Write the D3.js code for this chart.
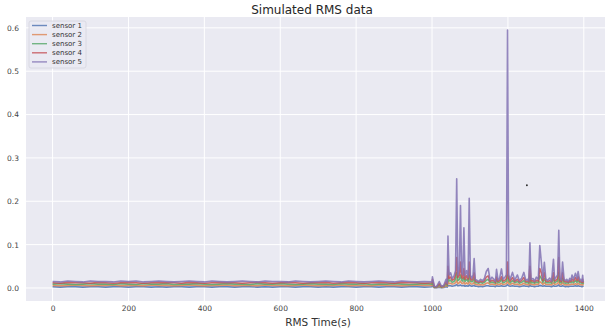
<!DOCTYPE html>
<html>
<head>
<meta charset="utf-8">
<script src="https://cdn.jsdelivr.net/npm/d3@7"></script>
<style>
  html, body { margin: 0; padding: 0; background: #fff; }
  svg { display: block; font-family: "DejaVu Sans", sans-serif; }
</style>
</head>
<body>
<div id="chart"></div>
<script>
const sensorNames = ['sensor 1', 'sensor 2', 'sensor 3', 'sensor 4', 'sensor 5']
const sensorColors = ['#4c72b0', '#dd8452', '#55a868', '#c44e52', '#8172b3']
const xTicks = [0, 200, 400, 600, 800, 1000, 1200, 1400]
const yTicks = [0.0, 0.1, 0.2, 0.3, 0.4, 0.5, 0.6]

// quiet part, one reading every 20 s
const baseTimes = [
  0, 20, 40, 60, 80, 100, 120, 140, 160, 180,
  200, 220, 240, 260, 280, 300, 320, 340, 360, 380,
  400, 420, 440, 460, 480, 500, 520, 540, 560, 580,
  600, 620, 640, 660, 680, 700, 720, 740, 760, 780,
  800, 820, 840, 860, 880, 900, 920, 940, 960, 980
]
const base1 = [
  0.003, 0.002, 0.003, 0.003, 0.002, 0.003, 0.003, 0.002, 0.003, 0.003,
  0.002, 0.003, 0.003, 0.002, 0.003, 0.002, 0.003, 0.003, 0.002, 0.003,
  0.003, 0.002, 0.003, 0.003, 0.002, 0.003, 0.003, 0.002, 0.003, 0.002,
  0.003, 0.003, 0.002, 0.003, 0.003, 0.002, 0.003, 0.002, 0.003, 0.003,
  0.002, 0.003, 0.003, 0.002, 0.003, 0.003, 0.002, 0.003, 0.003, 0.002
]
const base2 = [
  0.006, 0.005, 0.006, 0.007, 0.006, 0.005, 0.006, 0.006, 0.007, 0.005,
  0.006, 0.006, 0.005, 0.007, 0.006, 0.006, 0.005, 0.006, 0.007, 0.006,
  0.005, 0.006, 0.006, 0.007, 0.005, 0.006, 0.006, 0.005, 0.007, 0.006,
  0.006, 0.005, 0.006, 0.007, 0.006, 0.005, 0.006, 0.006, 0.007, 0.005,
  0.006, 0.006, 0.005, 0.007, 0.006, 0.006, 0.005, 0.006, 0.007, 0.006
]
const base3 = [
  0.009, 0.010, 0.009, 0.008, 0.009, 0.010, 0.009, 0.009, 0.008, 0.010,
  0.009, 0.008, 0.010, 0.009, 0.009, 0.010, 0.008, 0.009, 0.009, 0.010,
  0.009, 0.008, 0.009, 0.010, 0.009, 0.009, 0.008, 0.010, 0.009, 0.009,
  0.010, 0.009, 0.008, 0.009, 0.010, 0.009, 0.009, 0.008, 0.010, 0.009,
  0.009, 0.010, 0.008, 0.009, 0.009, 0.010, 0.009, 0.008, 0.009, 0.010
]
const base4 = [
  0.012, 0.011, 0.013, 0.012, 0.012, 0.011, 0.013, 0.012, 0.011, 0.012,
  0.013, 0.012, 0.011, 0.012, 0.013, 0.012, 0.012, 0.011, 0.013, 0.012,
  0.011, 0.012, 0.013, 0.012, 0.012, 0.011, 0.012, 0.013, 0.012, 0.011,
  0.012, 0.013, 0.012, 0.011, 0.012, 0.012, 0.013, 0.011, 0.012, 0.013,
  0.012, 0.011, 0.012, 0.013, 0.012, 0.011, 0.013, 0.012, 0.012, 0.011
]
const base5 = [
  0.015, 0.014, 0.016, 0.015, 0.014, 0.016, 0.015, 0.015, 0.014, 0.016,
  0.015, 0.016, 0.014, 0.015, 0.016, 0.015, 0.014, 0.015, 0.016, 0.015,
  0.014, 0.016, 0.015, 0.014, 0.015, 0.016, 0.015, 0.014, 0.016, 0.015,
  0.015, 0.014, 0.016, 0.015, 0.014, 0.015, 0.016, 0.015, 0.014, 0.016,
  0.015, 0.014, 0.015, 0.016, 0.015, 0.014, 0.016, 0.015, 0.014, 0.015
]

// burst part after 1000 s, uneven spacing around the spikes
const burstTimes = [
  1000, 1001, 1006, 1012, 1019, 1025, 1031, 1037, 1040, 1042,
  1045, 1049, 1053, 1058, 1062, 1065, 1068, 1072, 1075, 1078,
  1081, 1084, 1087, 1091, 1095, 1098, 1101, 1105, 1108, 1111,
  1114, 1118, 1123, 1128, 1133, 1138, 1143, 1148, 1153, 1158,
  1163, 1167, 1170, 1174, 1178, 1183, 1187, 1192, 1196, 1199,
  1202, 1206, 1212, 1218, 1225, 1230, 1236, 1242, 1247, 1252,
  1255, 1258, 1261, 1266, 1270, 1275, 1280, 1284, 1288, 1292,
  1296, 1300, 1305, 1310, 1315, 1320, 1323, 1327, 1331, 1334,
  1337, 1341, 1344, 1348, 1352, 1355, 1359, 1363, 1366, 1369,
  1373, 1378, 1382, 1385, 1389, 1392, 1395, 1397, 1398, 1399
]
const burst1 = [
  0.003, 0.005, 0.0005, 0.0005, 0.002, 0.0005, 0.001, 0.003, 0.002, 0.006,
  0.005, 0.005, 0.004, 0.005, 0.006, 0.008, 0.005, 0.006, 0.007, 0.005,
  0.005, 0.006, 0.004, 0.005, 0.004, 0.007, 0.005, 0.004, 0.005, 0.006,
  0.004, 0.004, 0.003, 0.004, 0.003, 0.004, 0.005, 0.005, 0.004, 0.004,
  0.004, 0.003, 0.005, 0.004, 0.004, 0.005, 0.004, 0.004, 0.005, 0.008,
  0.005, 0.004, 0.005, 0.004, 0.004, 0.003, 0.004, 0.005, 0.004, 0.004,
  0.003, 0.007, 0.004, 0.004, 0.003, 0.004, 0.004, 0.006, 0.005, 0.004,
  0.005, 0.004, 0.004, 0.004, 0.003, 0.005, 0.004, 0.004, 0.005, 0.007,
  0.004, 0.004, 0.005, 0.004, 0.003, 0.004, 0.003, 0.004, 0.004, 0.004,
  0.004, 0.005, 0.004, 0.005, 0.004, 0.004, 0.003, 0.004, 0.004, 0.003
]
const burst2 = [
  0.006, 0.009, 0.001, 0.001, 0.004, 0.001, 0.002, 0.006, 0.004, 0.015,
  0.010, 0.011, 0.009, 0.010, 0.012, 0.018, 0.010, 0.012, 0.016, 0.011,
  0.010, 0.014, 0.009, 0.012, 0.009, 0.016, 0.010, 0.009, 0.010, 0.013,
  0.008, 0.008, 0.007, 0.008, 0.007, 0.008, 0.011, 0.012, 0.008, 0.009,
  0.008, 0.007, 0.011, 0.008, 0.008, 0.011, 0.008, 0.009, 0.010, 0.016,
  0.010, 0.008, 0.011, 0.008, 0.009, 0.007, 0.008, 0.011, 0.008, 0.008,
  0.007, 0.016, 0.008, 0.008, 0.007, 0.009, 0.008, 0.015, 0.012, 0.008,
  0.012, 0.008, 0.008, 0.008, 0.007, 0.012, 0.008, 0.009, 0.010, 0.018,
  0.008, 0.008, 0.012, 0.008, 0.007, 0.008, 0.007, 0.008, 0.008, 0.009,
  0.008, 0.010, 0.008, 0.011, 0.008, 0.008, 0.007, 0.009, 0.008, 0.006
]
const burst3 = [
  0.009, 0.014, 0.002, 0.002, 0.007, 0.002, 0.004, 0.010, 0.006, 0.030,
  0.016, 0.018, 0.013, 0.015, 0.020, 0.035, 0.017, 0.020, 0.030, 0.018,
  0.016, 0.025, 0.015, 0.020, 0.015, 0.030, 0.016, 0.014, 0.016, 0.022,
  0.012, 0.012, 0.011, 0.013, 0.011, 0.013, 0.018, 0.020, 0.012, 0.014,
  0.012, 0.011, 0.018, 0.012, 0.013, 0.019, 0.012, 0.014, 0.016, 0.030,
  0.016, 0.012, 0.017, 0.012, 0.015, 0.011, 0.013, 0.017, 0.012, 0.012,
  0.011, 0.030, 0.012, 0.013, 0.011, 0.014, 0.012, 0.028, 0.022, 0.013,
  0.022, 0.012, 0.012, 0.013, 0.011, 0.022, 0.012, 0.014, 0.016, 0.035,
  0.013, 0.012, 0.022, 0.012, 0.011, 0.012, 0.011, 0.013, 0.012, 0.015,
  0.012, 0.017, 0.013, 0.018, 0.012, 0.012, 0.011, 0.015, 0.012, 0.009
]
const burst4 = [
  0.012, 0.020, 0.003, 0.003, 0.010, 0.003, 0.005, 0.014, 0.008, 0.050,
  0.022, 0.025, 0.018, 0.020, 0.030, 0.070, 0.024, 0.030, 0.060, 0.025,
  0.022, 0.045, 0.020, 0.028, 0.020, 0.060, 0.022, 0.018, 0.022, 0.035,
  0.016, 0.015, 0.013, 0.016, 0.014, 0.017, 0.025, 0.028, 0.015, 0.018,
  0.016, 0.013, 0.025, 0.015, 0.017, 0.026, 0.016, 0.018, 0.022, 0.060,
  0.022, 0.016, 0.024, 0.015, 0.020, 0.014, 0.017, 0.024, 0.015, 0.016,
  0.014, 0.050, 0.016, 0.017, 0.014, 0.018, 0.016, 0.045, 0.035, 0.017,
  0.035, 0.016, 0.015, 0.017, 0.014, 0.035, 0.016, 0.018, 0.022, 0.070,
  0.017, 0.015, 0.035, 0.016, 0.014, 0.016, 0.013, 0.017, 0.015, 0.021,
  0.016, 0.024, 0.017, 0.026, 0.015, 0.016, 0.013, 0.020, 0.015, 0.012
]
const burst5 = [
  0.014, 0.026, 0.004, 0.003, 0.015, 0.004, 0.006, 0.020, 0.010, 0.120,
  0.030, 0.035, 0.022, 0.028, 0.040, 0.252, 0.030, 0.045, 0.190, 0.035,
  0.030, 0.139, 0.028, 0.040, 0.025, 0.207, 0.030, 0.022, 0.030, 0.068,
  0.020, 0.018, 0.015, 0.020, 0.017, 0.022, 0.038, 0.045, 0.018, 0.025,
  0.020, 0.015, 0.043, 0.018, 0.022, 0.044, 0.020, 0.025, 0.030, 0.595,
  0.030, 0.020, 0.036, 0.018, 0.030, 0.017, 0.022, 0.036, 0.018, 0.020,
  0.016, 0.104, 0.020, 0.022, 0.016, 0.025, 0.020, 0.098, 0.060, 0.022,
  0.059, 0.020, 0.018, 0.023, 0.016, 0.066, 0.020, 0.025, 0.030, 0.133,
  0.022, 0.018, 0.060, 0.020, 0.017, 0.020, 0.015, 0.022, 0.018, 0.030,
  0.020, 0.034, 0.022, 0.038, 0.018, 0.020, 0.015, 0.029, 0.018, 0.014
]

// lone dark dot seen in the picture
const strayPoint = [[1250, 0.237]]

const baseSets = [base1, base2, base3, base4, base5]
const burstSets = [burst1, burst2, burst3, burst4, burst5]
const times = baseTimes.concat(burstTimes)

const series = sensorNames.map((name, i) => ({
  name,
  color: sensorColors[i],
  points: baseSets[i].concat(burstSets[i]).map((v, j) => ({ t: times[j], v }))
}))

const width = 605
const height = 333
const plot = { left: 26, right: 610, top: 17, bottom: 301 }

const svg = d3.select('#chart').append('svg')
  .attr('width', width)
  .attr('height', height)

const x = d3.scaleLinear().domain([-70, 1469]).range([plot.left, plot.right])
const y = d3.scaleLinear().domain([-0.03, 0.625]).range([plot.bottom, plot.top])

svg.append('defs').append('clipPath').attr('id', 'clip')
  .append('rect')
  .attr('x', plot.left).attr('y', plot.top)
  .attr('width', plot.right - plot.left).attr('height', plot.bottom - plot.top)

svg.append('rect')
  .attr('x', plot.left).attr('y', plot.top)
  .attr('width', plot.right - plot.left).attr('height', plot.bottom - plot.top)
  .attr('fill', '#eaeaf2')

// grid lines
const grid = svg.append('g').attr('stroke', '#fff').attr('stroke-width', 1)
grid.selectAll('.gx').data(xTicks).join('line')
  .attr('x1', d => x(d)).attr('x2', d => x(d))
  .attr('y1', plot.top).attr('y2', plot.bottom)
grid.selectAll('.gy').data(yTicks).join('line')
  .attr('x1', plot.left).attr('x2', plot.right)
  .attr('y1', d => y(d)).attr('y2', d => y(d))

// axes, without domain line and tick marks (seaborn darkgrid look)
const xAxis = svg.append('g')
  .attr('transform', `translate(0,${plot.bottom})`)
  .call(d3.axisBottom(x).tickValues(xTicks).tickFormat(d3.format('d')).tickSize(0).tickPadding(5))
const yAxis = svg.append('g')
  .attr('transform', `translate(${plot.left},0)`)
  .call(d3.axisLeft(y).tickValues(yTicks).tickFormat(d3.format('.1f')).tickSize(0).tickPadding(7))
;[xAxis, yAxis].forEach(a => {
  a.select('.domain').remove()
  a.selectAll('text')
    .attr('fill', '#444')
    .style('font-size', '7.5px')
    .style('font-family', '"DejaVu Sans", sans-serif')
})

const line = d3.line().x(d => x(d.t)).y(d => y(d.v))

svg.append('g').attr('clip-path', 'url(#clip)')
  .selectAll('path')
  .data(series)
  .join('path')
  .attr('fill', 'none')
  .attr('stroke', d => d.color)
  .attr('stroke-opacity', 0.85)
  .attr('stroke-width', 1.6)
  .attr('stroke-linejoin', 'round')
  .attr('d', d => line(d.points))

svg.append('g').selectAll('circle')
  .data(strayPoint)
  .join('circle')
  .attr('cx', d => x(d[0]))
  .attr('cy', d => y(d[1]))
  .attr('r', 0.9)
  .attr('fill', '#222')

// title and axis label
svg.append('text')
  .attr('x', (plot.left + plot.right) / 2 - 6)
  .attr('y', 14)
  .attr('text-anchor', 'middle')
  .attr('fill', '#262626')
  .style('font-size', '12px')
  .text('Simulated RMS data')

svg.append('text')
  .attr('x', (plot.left + plot.right) / 2)
  .attr('y', 326)
  .attr('text-anchor', 'middle')
  .attr('fill', '#333')
  .style('font-size', '10.5px')
  .text('RMS Time(s)')

// legend
const legend = svg.append('g').attr('transform', 'translate(29,21)')
legend.append('rect')
  .attr('width', 57).attr('height', 47)
  .attr('rx', 2)
  .attr('fill', '#eaeaf2')
  .attr('fill-opacity', 0.8)
  .attr('stroke', '#d6d6de')
  .attr('stroke-width', 0.8)

const item = legend.selectAll('.item')
  .data(series)
  .join('g')
  .attr('transform', (d, i) => `translate(0,${4.5 + i * 9.1})`)
item.append('line')
  .attr('x1', 3).attr('x2', 18)
  .attr('stroke', d => d.color)
  .attr('stroke-opacity', 0.8)
  .attr('stroke-width', 1.4)
item.append('text')
  .attr('x', 23).attr('y', 2.5)
  .attr('fill', '#333')
  .style('font-size', '7px')
  .text(d => d.name)
</script>
</body>
</html>
